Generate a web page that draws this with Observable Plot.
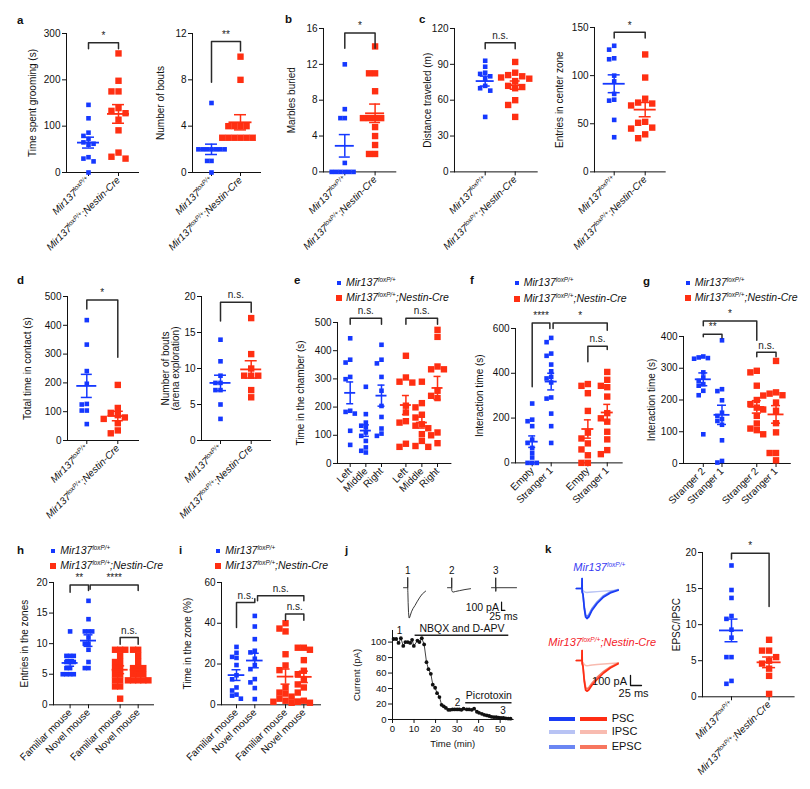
<!DOCTYPE html>
<html><head><meta charset="utf-8">
<script src="https://cdn.jsdelivr.net/npm/d3@7"></script>
<script src="https://cdn.jsdelivr.net/npm/@observablehq/plot@0.6"></script>
<style>
body{margin:0;background:#fff;font-family:"Liberation Sans",Arial,Helvetica,sans-serif;color:#111;}
#fig{position:relative;width:810px;height:789px;overflow:hidden;background:#fff;}
.abs{position:absolute;white-space:nowrap;line-height:1;}
sup{font-size:0.6em;vertical-align:0.6em;line-height:0;}
</style></head>
<body><div id="fig"></div>
<script>
// ---------------- DATA ----------------
const genotypeTicks = ["Mir137|loxP/+", "Mir137|loxP/+|;Nestin-Cre"];
const chamberTicks = ["Left", "Middle", "Right", "Left", "Middle", "Right"];
const socialTicks = ["Empty", "Stranger 1", "Empty", "Stranger 1"];
const noveltyTicks = ["Stranger 2", "Stranger 1", "Stranger 2", "Stranger 1"];
const zoneTicks = ["Familiar mouse", "Novel mouse", "Familiar mouse", "Novel mouse"];

// a
const groomWT = [146,117,86,79,72,65,62,60,33,30,24,0];
const groomCre = [257,198,175,175,139,133,128,114,91,43,34,30];
const boutsWT = [6,2,2,2,2,2,2,2,1,1,0];
const boutsCre = [10,8,4,4,4,4,3,3,3,3,3,3];
// b
const marblesWT = [12,7,6,6,1,0,0,0,0,0,0];
const marblesCre = [14,11,11,9,6,6,6,6,5,4,3,2,2];
// c
const distanceWT = [93,88,83,82,80,78,72,70,68,46];
const distanceCre = [92,83,81,80,79,78,76,72,71,70,60,56,46];
const centerWT = [131,127,118,117,100,94,81,75,74,54,36];
const centerCre = [122,98,76,72,71,69,52,51,46,45,39,35];
// d
const contactWT = [418,333,241,197,127,125,104,104,57];
const contactCre = [193,113,96,88,80,75,60,35,25];
const arenaWT = [14,11,9,8,8,7,7,5,3];
const arenaCre = [17,12,10,9,9,9,7,6];
// e
const chamberWTLeft = [444,368,358,307,299,187,183,177,116,66];
const chamberWTMiddle = [272,175,145,134,128,110,98,80,57,45,39];
const chamberWTRight = [421,368,355,307,258,204,165,124,106,98];
const chamberCreLeft = [382,305,290,287,205,181,150,145,70,59];
const chamberCreMiddle = [290,214,199,173,163,139,134,125,104,80,62,59];
const chamberCreRight = [474,449,344,334,334,258,240,232,110,100,72];
// f
const socialWTEmpty = [265,193,186,164,104,89,67,45,24,0,0,0];
const socialWTStranger = [558,539,488,478,439,409,384,377,359,292,287,220,164,89];
const socialCreEmpty = [352,344,311,232,135,109,87,60,34,0,0];
const socialCreStranger = [406,371,344,338,296,222,199,184,139,105,57,39];
// g
const noveltyWTStranger2 = [337,334,332,330,287,271,260,250,245,229,215,92];
const noveltyWTStranger1 = [388,234,228,199,160,150,140,134,122,73,8,3];
const noveltyCreStranger2 = [292,287,245,200,187,176,170,150,126,110,105,92];
const noveltyCreStranger1 = [323,224,220,215,214,192,166,127,98,33,33,10];
// h
const entriesWTFamiliar = [12,8,8,8,7,7,7,6,6,5,5,5,5];
const entriesWTNovel = [17,14,12,12,12,11,10,10,9,7,6,6];
const entriesCreFamiliar = [9,9,9,8,7,7,6,6,5,5,4,4,3,3,1];
const entriesCreNovel = [9,9,8,7,6,6,6,5,5,5,4,4,4,4,4];
// i
const zoneWTFamiliar = [28.4,25.5,23.5,23,19.5,14.5,12.5,8.5,7,5,4.5,3];
const zoneWTNovel = [43.6,38.4,32.2,26.5,25.7,22.6,19.5,17.5,12.6,11,8.2,2.8];
const zoneCreFamiliar = [40,37.4,36,24.8,19.3,17,8.5,6,5.5,4,3,2,1.5,1.5,1];
const zoneCreNovel = [28,28,27,21.9,16.7,15,12.6,10,8.5,6,2,1.5,1];
// j
const timeMin = [0.5,1.7,2.8,3.9,5.0,6.0,7.1,8.2,9.1,9.9,11.6,12.5,13.6,14.7,15.8,16.7,17.8,18.7,19.8,20.7,21.8,22.8,23.8,24.8,25.9,26.8,27.9,28.9,30.0,31.0,32.0,33.0,34.5,35.6,36.8,37.9,39.2,40.2,41.5,42.6,43.8,44.9,46.0,47.1,48.2,49.3,50.4,51.5,52.6,53.7,54.8];
const currentPA = [104,104,99,105,95,100,100,99,103,95,102,100,105,97,74,65,59,45,41,34,29,19,17,15,12.5,12.5,13,13,13,13,12.5,14,13,13,12.5,14,10,8.6,7.3,6,5.2,4.5,3.5,3,3,2.5,2,2,1.5,1.2,1];
const drugLabels = ["NBQX and D-APV", "Picrotoxin"];
const drugStart = [10.5, 34];
const drugEnd = [54, 55.5];
const drugLevel = [109, 21.5];
const epochLabels = ["1", "2", "3"];
const epochTime = [3.3, 30.2, 51.3];
const epochLevel = [115, 21, 11.6];
const trace1Ms = [-32,-0.5,0,0.3,1,3,6,10,14,20,28,40,55,70,92,110,135];
const trace1PA = [0,0,125,-35,-60,-180,-300,-365,-360,-330,-290,-250,-213,-170,-113,-75,-41];
const trace2Ms = [-32,-0.5,0,0.3,3,10,30,60,100,142];
const trace2PA = [0,0,120,-33,-45,-53,-45,-35,-22,-12];
const trace3Ms = [-32,-0.5,0,0.3,2,157];
const trace3PA = [0,0,120,-45,0,0];
const scaleBarMs = 25, scaleBarPA = 100;
// k
const kTimeMs = [-13,-0.5,0,0.3,2,5,8,11,15,22.7,34,49,64,82];
const wtPSC  = [0,0,100,-35,-60,-200,-285,-300,-285,-217,-150,-84,-44,-17];
const wtEPSC = [0,0,100,-35,-55,-185,-265,-280,-265,-200,-135,-72,-35,-10];
const wtIPSC = [0,0,100,-35,-20,-32,-38,-40,-38,-35,-31,-26,-22,-18];
const crePSC  = [0,0,100,-30,-60,-210,-295,-307,-295,-245,-190,-125,-75,-33];
const creEPSC = [0,0,100,-30,-55,-190,-270,-285,-272,-225,-170,-110,-65,-25];
const creIPSC = [0,0,100,-30,-20,-40,-50,-52,-50,-45,-40,-35,-30,-25];
const kLegend = ["PSC", "IPSC", "EPSC"];
const ratioWT = [18.2,14.8,13.7,11.2,10.8,9.3,8.2,5.5,5.5,2.2,1.8];
const ratioCre = [7.9,6.4,6.4,5.5,5,4.6,3.9,2.9,0.4];

// ---------------- STYLE ----------------
const BLUE = "#1538ff", RED = "#ff2f12";
const WT_COLORS = {PSC: "#1a3cf5", EPSC: "#6b86f3", IPSC: "#b8c3f4"};
const CRE_COLORS = {PSC: "#ff2d14", EPSC: "#f7765f", IPSC: "#f8bbb0"};
const FONT = "'Liberation Sans', Arial, Helvetica, sans-serif";
const baseStyle = {background: "transparent", overflow: "visible", fontFamily: FONT, fontSize: "10px", color: "#111", maxWidth: "none"};
const fig = document.getElementById("fig");

function stripArrows(svg) {
  const walker = document.createTreeWalker(svg, NodeFilter.SHOW_TEXT);
  const nodes = [];
  while (walker.nextNode()) nodes.push(walker.currentNode);
  nodes.forEach(n => { n.nodeValue = n.nodeValue.replace(/[↑↓←→]\s*/g, "").replace(/\s*[↑↓←→]/g, "").trim(); });
}
function place(node, left, top) {
  stripArrows(node);
  const d = document.createElement("div");
  d.style.cssText = `position:absolute;left:${left}px;top:${top}px;`;
  d.appendChild(node); fig.appendChild(d);
}
function html(str, left, top, css = "") {
  const d = document.createElement("div");
  d.className = "abs"; d.style.cssText = `left:${left}px;top:${top}px;${css}`;
  d.innerHTML = str; fig.appendChild(d); return d;
}
const geno = (cre) => `Mir137<sup>loxP/+</sup>${cre ? ";Nestin-Cre" : ""}`;

function supify(svg) {
  d3.select(svg).selectAll("text").each(function () {
    const t = this.textContent;
    if (!t.includes("|")) return;
    const parts = t.split("|");
    const s = d3.select(this);
    s.text(null).attr("font-style", "italic");
    s.append("tspan").text(parts[0]);
    s.append("tspan").attr("font-size", "6.5px").attr("dy", "-3.5").text(parts[1]);
    if (parts[2]) s.append("tspan").attr("dy", "3.5").text(parts[2]);
  });
}

// deterministic beeswarm offsets (px), derived from the values only
function swarm(vals, pxPerUnit, size) {
  const idx = d3.range(vals.length).sort((a, b) => vals[b] - vals[a]);
  const placed = [], off = new Array(vals.length);
  for (const i of idx) {
    const yp = vals[i] * pxPerUnit;
    for (let k = 0; k < 60; k++) {
      const o = (k % 2 ? -1 : 1) * Math.ceil(k / 2) * size;
      if (!placed.some(p => Math.abs(p.y - yp) < size && Math.abs(p.o - o) < size * 0.99)) {
        off[i] = o; placed.push({y: yp, o}); break;
      }
    }
  }
  return off;
}

function scatterPanel(L, groups, brackets, o) {
  const mL = 62, mR = 12, mT = 36, mB = 100;
  const pxPerUnit = (L.bot - L.top) / (o.y[1] - o.y[0]);
  const xdom = [(L.ax - L.first) / L.step, (L.right - L.first) / L.step];
  const marks = [], stats = [];
  groups.forEach(g => {
    const side = g.cre ? 6.4 : 4.6;
    const off = swarm(g.values, pxPerUnit, side * (o.pack || 1.1));
    const pts = g.values.map((v, i) => ({x: g.slot + off[i] / L.step, v}));
    marks.push(Plot.dot(pts, {x: "x", y: "v", symbol: "square", r: side / Math.sqrt(Math.PI), fill: g.cre ? RED : BLUE}));
    const m = d3.mean(g.values), se = d3.deviation(g.values) / Math.sqrt(g.values.length);
    stats.push({slot: g.slot, mean: m, lo: m - se, hi: m + se, color: g.cre ? RED : BLUE});
  });
  const mh = o.mean / L.step, ch = o.cap / L.step;
  marks.push(Plot.ruleX(stats, {x: "slot", y1: "lo", y2: "hi", stroke: "color", strokeWidth: 1.5}));
  marks.push(Plot.ruleY(stats, {y: "mean", x1: d => d.slot - mh, x2: d => d.slot + mh, stroke: "color", strokeWidth: 1.8}));
  marks.push(Plot.ruleY(stats, {y: "lo", x1: d => d.slot - ch, x2: d => d.slot + ch, stroke: "color", strokeWidth: 1.5}));
  marks.push(Plot.ruleY(stats, {y: "hi", x1: d => d.slot - ch, x2: d => d.slot + ch, stroke: "color", strokeWidth: 1.5}));
  const bpts = brackets.flatMap((b, i) => [{i, x: b.x1, y: b.y1}, {i, x: b.x1, y: b.y}, {i, x: b.x2, y: b.y}, {i, x: b.x2, y: b.y2}]);
  marks.push(Plot.line(bpts, {x: "x", y: "y", z: "i", stroke: "#2a2a2a", strokeWidth: 1.5}));
  marks.push(Plot.text(brackets, {x: d => (d.x1 + d.x2) / 2, y: "y", text: "label", dy: -7, fontSize: 10, fill: "#222"}));
  const labelMap = new Map(L.slots.map((s, i) => [s, L.labels[i]]));
  const p = Plot.plot({
    width: L.right - L.ax + mL + mR, height: L.bot - L.top + mT + mB,
    marginLeft: mL, marginRight: mR, marginTop: mT, marginBottom: mB,
    style: {...baseStyle, fontSize: "10px"},
    x: {domain: xdom, ticks: L.slots, tickFormat: d => labelMap.get(d) ?? "", tickRotate: -45, tickSize: 4, tickPadding: 2, line: true, label: null},
    y: {domain: o.y, ticks: o.ticks, tickSize: 4, tickPadding: 2, line: true, label: o.label, labelAnchor: "center", labelOffset: o.lo},
    marks
  });
  supify(p);
  place(p, L.ax - mL, L.top - mT);
}

// ---------------- PANELS a–i, k ----------------
const gL = genotypeTicks;
scatterPanel({ax: 66, right: 138, top: 32.7, bot: 171.7, first: 88, step: 30, slots: [0, 1], labels: gL},
  [{slot: 0, values: groomWT}, {slot: 1, values: groomCre, cre: true}],
  [{x1: 0, x2: 1, y: 280, y1: 267, y2: 267, label: "*"}],
  {y: [0, 300], ticks: [0, 100, 200, 300], label: "Time spent grooming (s)", lo: 38, mean: 11, cap: 6});
scatterPanel({ax: 192, right: 260, top: 32.7, bot: 171.7, first: 211, step: 29, slots: [0, 1], labels: gL},
  [{slot: 0, values: boutsWT}, {slot: 1, values: boutsCre, cre: true}],
  [{x1: 0, x2: 1, y: 11.3, y1: 7.8, y2: 10.5, label: "**"}],
  {y: [0, 12], ticks: [0, 4, 8, 12], label: "Number of bouts", lo: 36, mean: 11.5, cap: 6, pack: 0.95});
scatterPanel({ax: 322.7, right: 395, top: 28.3, bot: 171.7, first: 344, step: 30.3, slots: [0, 1], labels: gL},
  [{slot: 0, values: marblesWT}, {slot: 1, values: marblesCre, cre: true}],
  [{x1: 0, x2: 1, y: 15.5, y1: 13.8, y2: 13.8, label: "*"}],
  {y: [0, 16], ticks: [0, 4, 8, 12, 16], label: "Marbles buried", lo: 36, mean: 9.5, cap: 5.5, pack: 0.95});
scatterPanel({ax: 454.3, right: 537, top: 28.3, bot: 171.7, first: 485, step: 30, slots: [0, 1], labels: gL},
  [{slot: 0, values: distanceWT}, {slot: 1, values: distanceCre, cre: true}],
  [{x1: 0, x2: 1, y: 108, y1: 103, y2: 103, label: "n.s."}],
  {y: [0, 120], ticks: [0, 30, 60, 90, 120], label: "Distance traveled (m)", lo: 31, mean: 9, cap: 5});
scatterPanel({ax: 594.3, right: 665, top: 27.3, bot: 171.7, first: 614, step: 31, slots: [0, 1], labels: gL},
  [{slot: 0, values: centerWT}, {slot: 1, values: centerCre, cre: true}],
  [{x1: 0, x2: 1, y: 145, y1: 139, y2: 139, label: "*"}],
  {y: [0, 150], ticks: [0, 50, 100, 150], label: "Entries in center zone", lo: 39, mean: 11, cap: 6});
scatterPanel({ax: 66.7, right: 137.7, top: 296, bot: 440, first: 86, step: 31, slots: [0, 1], labels: gL},
  [{slot: 0, values: contactWT}, {slot: 1, values: contactCre, cre: true}],
  [{x1: 0, x2: 1, y: 488, y1: 457, y2: 289, label: "*"}],
  {y: [0, 500], ticks: [0, 100, 200, 300, 400, 500], label: "Total time in contact (s)", lo: 44, mean: 10, cap: 5.5});
scatterPanel({ax: 201, right: 270, top: 296, bot: 440, first: 220, step: 30.7, slots: [0, 1], labels: gL},
  [{slot: 0, values: arenaWT}, {slot: 1, values: arenaCre, cre: true}],
  [{x1: 0, x2: 1, y: 19.2, y1: 16.6, y2: 17.8, label: "n.s."}],
  {y: [0, 20], ticks: [0, 5, 10, 15, 20], label: "Number of bouts\n(arena exploration)", lo: 40, mean: 10.5, cap: 6});
scatterPanel({ax: 337.3, right: 450.7, top: 321.7, bot: 462.7, first: 350, step: 15.65, slots: [0, 1, 2, 3.56, 4.58, 5.58], labels: chamberTicks},
  [{slot: 0, values: chamberWTLeft}, {slot: 1, values: chamberWTMiddle}, {slot: 2, values: chamberWTRight},
   {slot: 3.56, values: chamberCreLeft, cre: true}, {slot: 4.58, values: chamberCreMiddle, cre: true}, {slot: 5.58, values: chamberCreRight, cre: true}],
  [{x1: 0, x2: 2, y: 515, y1: 494, y2: 494, label: "n.s."}, {x1: 3.56, x2: 5.58, y: 515, y1: 494, y2: 494, label: "n.s."}],
  {y: [0, 500], ticks: [0, 100, 200, 300, 400, 500], label: "Time in the chamber (s)", lo: 41, mean: 5.5, cap: 3.5, pack: 1.0});
scatterPanel({ax: 515, right: 621.7, top: 328.3, bot: 462.7, first: 531.7, step: 19, slots: [0, 1, 2.93, 3.95], labels: socialTicks},
  [{slot: 0, values: socialWTEmpty}, {slot: 1, values: socialWTStranger},
   {slot: 2.93, values: socialCreEmpty, cre: true}, {slot: 3.95, values: socialCreStranger, cre: true}],
  [{x1: 0, x2: 0.93, y: 625, y1: 340, y2: 600, label: "****"}, {x1: 1.1, x2: 3.95, y: 625, y1: 600, y2: 592, label: "*"},
   {x1: 2.93, x2: 3.95, y: 521, y1: 451, y2: 506, label: "n.s."}],
  {y: [0, 600], ticks: [0, 200, 400, 600], label: "Interaction time (s)", lo: 40, mean: 6, cap: 3.5, pack: 1.0});
scatterPanel({ax: 682.5, right: 789.3, top: 335.7, bot: 462.7, first: 702.3, step: 18.7, slots: [0, 1, 2.86, 3.89], labels: noveltyTicks},
  [{slot: 0, values: noveltyWTStranger2}, {slot: 1, values: noveltyWTStranger1},
   {slot: 2.86, values: noveltyCreStranger2, cre: true}, {slot: 3.89, values: noveltyCreStranger1, cre: true}],
  [{x1: 0, x2: 1, y: 407, y1: 399, y2: 395, label: "**"}, {x1: 0, x2: 2.86, y: 449, y1: 434, y2: 388, label: "*"},
   {x1: 2.86, x2: 3.89, y: 350, y1: 336, y2: 336, label: "n.s."}],
  {y: [0, 400], ticks: [0, 100, 200, 300, 400], label: "Interaction time (s)", lo: 36, mean: 8, cap: 4.5, pack: 1.0});
scatterPanel({ax: 52.7, right: 152.7, top: 581.7, bot: 704, first: 69.3, step: 18.4, slots: [0, 1, 2.72, 3.7], labels: zoneTicks},
  [{slot: 0, values: entriesWTFamiliar}, {slot: 1, values: entriesWTNovel},
   {slot: 2.72, values: entriesCreFamiliar, cre: true}, {slot: 3.7, values: entriesCreNovel, cre: true}],
  [{x1: 0, x2: 1, y: 19.6, y1: 18.4, y2: 18.7, label: "**"}, {x1: 1.09, x2: 3.7, y: 19.6, y1: 18.9, y2: 18.7, label: "****"},
   {x1: 2.72, x2: 3.7, y: 11, y1: 9.9, y2: 9.9, label: "n.s."}],
  {y: [0, 20], ticks: [0, 5, 10, 15, 20], label: "Entries in the zones", lo: 33, mean: 8, cap: 4.5, pack: 0.8});
scatterPanel({ax: 221, right: 320, top: 581.7, bot: 704, first: 236, step: 18.3, slots: [0, 1, 2.68, 3.68], labels: zoneTicks},
  [{slot: 0, values: zoneWTFamiliar}, {slot: 1, values: zoneWTNovel},
   {slot: 2.68, values: zoneCreFamiliar, cre: true}, {slot: 3.68, values: zoneCreNovel, cre: true}],
  [{x1: 0, x2: 1, y: 50.2, y1: 37.9, y2: 52, label: "n.s."}, {x1: 1.15, x2: 3.68, y: 53.5, y1: 51, y2: 51, label: "n.s."},
   {x1: 2.68, x2: 3.68, y: 44.5, y1: 41.5, y2: 41.5, label: "n.s."}],
  {y: [0, 60], ticks: [0, 20, 40, 60], label: "Time in the zone (%)", lo: 38, mean: 8.3, cap: 4.5, pack: 0.95});
scatterPanel({ax: 701.7, right: 793.3, top: 551.7, bot: 696, first: 730.7, step: 37.6, slots: [0, 1], labels: gL},
  [{slot: 0, values: ratioWT}, {slot: 1, values: ratioCre, cre: true}],
  [{x1: 0, x2: 1, y: 19.9, y1: 19.1, y2: 12.5, label: "*"}],
  {y: [0, 20], ticks: [0, 5, 10, 15, 20], label: "EPSC/IPSC", lo: 30, mean: 12, cap: 6.5});

// ---------------- PANEL j ----------------
{
  const ax = 392.3, right = 512.9, top = 630, bot = 719, mL = 55, mR = 10, mT = 30, mB = 45;
  const series = timeMin.map((t, i) => ({t, v: currentPA[i]}));
  const drugs = drugLabels.map((label, i) => ({label, start: drugStart[i], end: drugEnd[i], level: drugLevel[i]}));
  const epochs = epochLabels.map((label, i) => ({label, t: epochTime[i], v: epochLevel[i]}));
  const p = Plot.plot({
    width: right - ax + mL + mR, height: bot - top + mT + mB,
    marginLeft: mL, marginRight: mR, marginTop: mT, marginBottom: mB,
    style: {...baseStyle, fontSize: "9.5px"},
    x: {domain: [0, 56], ticks: [0, 10, 20, 30, 40, 50], tickSize: 4, tickPadding: 2, line: true, label: "Time (min)", labelAnchor: "center", labelOffset: 28},
    y: {domain: [0, 115], ticks: [0, 20, 40, 60, 80, 100], tickSize: 4, tickPadding: 2, line: true, label: "Current (pA)", labelAnchor: "center", labelOffset: 39},
    marks: [
      Plot.line(series, {x: "t", y: "v", stroke: "#111", strokeWidth: 0.8}),
      Plot.dot(series, {x: "t", y: "v", r: 1.9, fill: "#111"}),
      Plot.ruleY(drugs, {y: "level", x1: "start", x2: "end", stroke: "#222", strokeWidth: 1.5}),
      Plot.text(drugs, {x: d => (d.start + d.end) / 2, y: "level", text: "label", dy: -7, fontSize: 10.5}),
      Plot.text(epochs, {x: "t", y: "v", text: "label", fontSize: 10})
    ]
  });
  place(p, ax - mL, top - mT);

  // example traces, one facet per epoch
  const rows = [
    ...trace1Ms.map((t, i) => ({trace: 1, t, v: trace1PA[i]})),
    ...trace2Ms.map((t, i) => ({trace: 2, t, v: trace2PA[i]})),
    ...trace3Ms.map((t, i) => ({trace: 3, t, v: trace3PA[i]}))
  ];
  const labs = epochLabels.map((label, i) => ({trace: i + 1, label, t: 0, v: 135}));
  const sbT = 44, sbV = -273;
  const bar = [{trace: 3, t: sbT, v: sbV + scaleBarPA}, {trace: 3, t: sbT, v: sbV}, {trace: 3, t: sbT + scaleBarMs, v: sbV}];
  const barText = [{trace: 3, t: 24, v: -237, label: `${scaleBarPA} pA`, a: "end"}, {trace: 3, t: 59, v: -354, label: `${scaleBarMs} ms`, a: "middle"}];
  const tL = 401.7, tTop = 576.1, tw = 133.2, th = 42.8, pm = 20;
  const tp = Plot.plot({
    width: tw + 2 * pm, height: th + 2 * pm, marginLeft: pm, marginRight: pm, marginTop: pm, marginBottom: pm,
    style: {...baseStyle, fontSize: "10px"},
    fx: {domain: [1, 2, 3], padding: 0, axis: null},
    x: {domain: [-32, 300], axis: null},
    y: {domain: [-380, 135], axis: null},
    marks: [
      Plot.line(rows, {fx: "trace", x: "t", y: "v", z: "trace", stroke: "#222", strokeWidth: 0.9}),
      Plot.text(labs, {fx: "trace", x: "t", y: "v", text: "label", dy: -6, fontSize: 10}),
      Plot.line(bar, {fx: "trace", x: "t", y: "v", stroke: "#111", strokeWidth: 1.2}),
      Plot.text(barText.filter(d => d.a === "end"), {fx: "trace", x: "t", y: "v", text: "label", textAnchor: "end", fontSize: 10.5}),
      Plot.text(barText.filter(d => d.a === "middle"), {fx: "trace", x: "t", y: "v", text: "label", fontSize: 10.5})
    ]
  });
  place(tp, tL - pm, tTop - pm);
}

// ---------------- PANEL k traces ----------------
function kTrace(psc, epsc, ipsc, colors, left, top, withBar) {
  const rows = [
    ...kTimeMs.map((t, i) => ({k: "IPSC", t, v: ipsc[i]})),
    ...kTimeMs.map((t, i) => ({k: "EPSC", t, v: epsc[i]})),
    ...kTimeMs.map((t, i) => ({k: "PSC", t, v: psc[i]}))
  ];
  const marks = ["IPSC", "EPSC", "PSC"].map(k => Plot.line(rows.filter(r => r.k === k), {x: "t", y: "v", stroke: colors[k], strokeWidth: k === "IPSC" ? 1.4 : 1.7}));
  if (withBar) {
    const t0 = 110, v0 = -250;
    marks.push(Plot.line([{t: t0, v: v0 + scaleBarPA}, {t: t0, v: v0}, {t: t0 + scaleBarMs, v: v0}], {x: "t", y: "v", stroke: "#111", strokeWidth: 1.3}));
    marks.push(Plot.text([{t: 102, v: -205, label: `${scaleBarPA} pA`}], {x: "t", y: "v", text: "label", textAnchor: "end", fontSize: 11}));
    marks.push(Plot.text([{t: 117, v: -333, label: `${scaleBarMs} ms`}], {x: "t", y: "v", text: "label", fontSize: 11}));
  }
  const pm = 20;
  const p = Plot.plot({
    width: 44 + 2 * pm, height: 43 + 2 * pm, marginLeft: pm, marginRight: pm, marginTop: pm, marginBottom: pm,
    style: baseStyle,
    x: {domain: [-15, 85], axis: null},
    y: {domain: [-320, 110], axis: null},
    marks
  });
  place(p, left - pm, top - pm);
}
kTrace(wtPSC, wtEPSC, wtIPSC, WT_COLORS, 575.1, 577.3, false);
kTrace(crePSC, creEPSC, creIPSC, CRE_COLORS, 575.1, 649, true);

// ---------------- TEXT: panel letters, legends ----------------
const letters = [["a", 17, 15], ["b", 285, 14], ["c", 419, 14], ["d", 17, 275], ["e", 294, 275], ["f", 470, 275],
  ["g", 643, 276], ["h", 17, 545], ["i", 179, 545], ["j", 345, 545], ["k", 545, 544]];
letters.forEach(([l, x, y]) => html(l, x, y, "font-weight:bold;font-size:11.5px;"));

function legend(x, y, gap) {
  html("", x - 2, y - 2, `width:4px;height:4px;background:${BLUE};`);
  html(geno(false), x + 7, y - 6, "font-style:italic;font-size:10.5px;");
  html("", x - 3, y + gap - 3, `width:6px;height:6px;background:${RED};`);
  html(geno(true), x + 7, y + gap - 6, "font-style:italic;font-size:10.5px;");
}
legend(339, 282.7, 15.6);
legend(516.7, 283.3, 15.6);
legend(687.7, 282.7, 15.6);
legend(53.3, 551, 14.5);
legend(218.3, 551, 14.5);

// k genotype labels and line legend
html(geno(false), 573.3, 562, "font-style:italic;font-size:11px;color:#3a3cf2;");
html(geno(true), 548.3, 637, "font-style:italic;font-size:11px;color:#f3222a;");
const kRowY = [719, 732.3, 746.7];
kLegend.forEach((k, i) => {
  html("", 549.3, kRowY[i] - 2, `width:26px;height:4px;background:${WT_COLORS[k]};`);
  html("", 580, kRowY[i] - 2, `width:27px;height:4px;background:${CRE_COLORS[k]};`);
  html(k, 611.7, kRowY[i] - 6, "font-size:11px;");
});
</script></body></html>
